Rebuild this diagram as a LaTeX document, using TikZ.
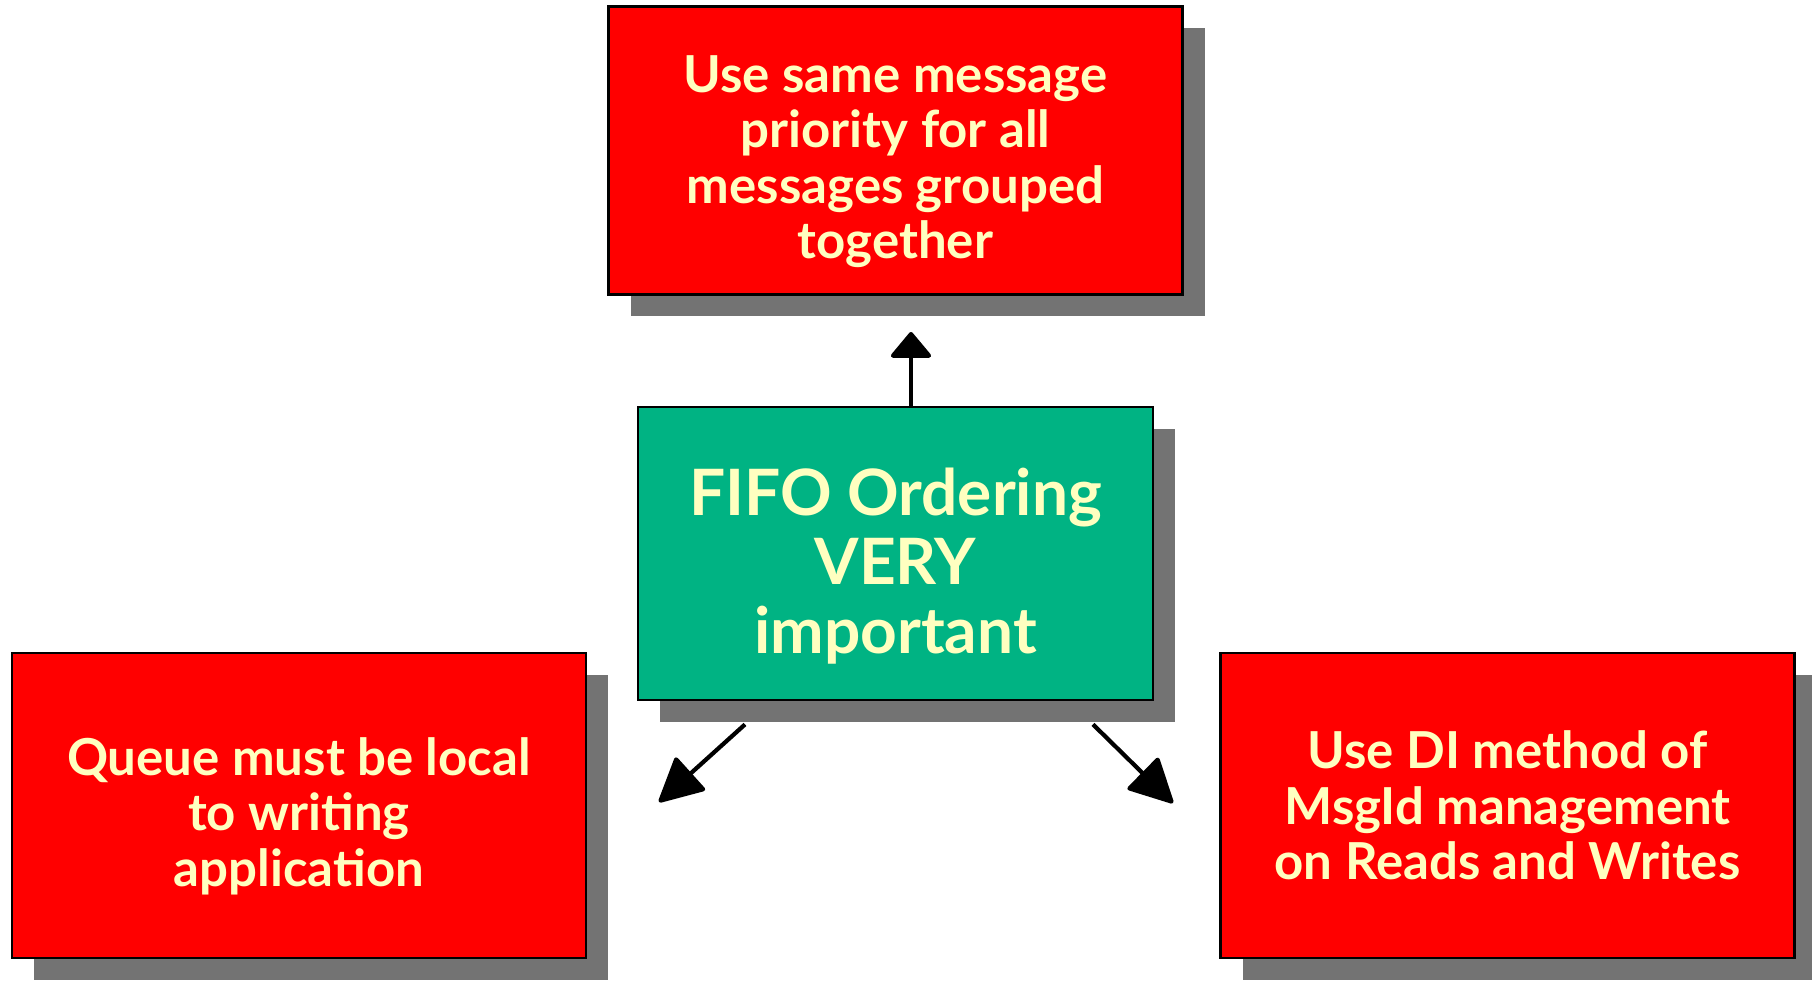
\documentclass[tikz,border=0pt]{standalone}
\usepackage{fontspec}
\setmainfont{Lato}
\usepackage{tikz}
\usetikzlibrary{positioning,shadows,arrows.meta}

\definecolor{boxred}{HTML}{FF0000}
\definecolor{boxgreen}{HTML}{00B383}
\definecolor{textyellow}{HTML}{FFFFC0}
\definecolor{shadowgrey}{HTML}{737373}

% pushes the text block of a box down by half of (#1 - first line height)
\newcommand{\toppad}[1]{\rule{0pt}{#1}}

\begin{document}
\begin{tikzpicture}[
                    box/.style={
                        draw=black,
                        line width=0.8pt,
                        text=textyellow,
                        align=center,
                        font=\bfseries\fontsize{14.5}{15.8}\selectfont,
                        general shadow={fill=shadowgrey, shadow xshift=0.22cm, shadow yshift=-0.22cm}
                    },
                    redbox/.style={box, fill=boxred, minimum width=5.74cm, minimum height=3.05cm},
                    greenbox/.style={box, fill=boxgreen, minimum width=5.15cm, minimum height=2.93cm,
                        font=\bfseries\fontsize{18.2}{19.6}\selectfont},
                    link/.style={line width=1.2pt, line join=round}
                ]
                \useasboundingbox (0,0) rectangle (18.12,9.80);

                \node[greenbox] (fifo) at (8.955,4.265) {\toppad{20.5pt}FIFO Ordering\\VERY\\important};
                \node[redbox, minimum height=2.88cm, above=1.1cm of fifo] (msg)
                    {\toppad{17pt}Use same message\\priority for all\\messages grouped\\together};
                \node[redbox] (queue) at (2.99,1.745) {\toppad{16.8pt}Queue must be local\\to writing\\application};
                \node[redbox] (dimeth) at (15.075,1.745) {Use DI method of\\MsgId management\\on Reads and Writes};

                \coordinate (uptip) at (9.11,6.48);
                \coordinate (lefttip) at (6.59,1.78);
                \coordinate (righttip) at (11.73,1.77);

                \path[link]
                (fifo.north -| uptip) edge[-{Triangle[length=0.27cm, width=0.44cm, round]}] (uptip)
                ([xshift=-1.505cm, yshift=-0.23cm]fifo.south) edge[-{Triangle[length=0.46cm, width=0.46cm, round]}] (lefttip)
                ([xshift=1.975cm, yshift=-0.23cm]fifo.south) edge[-{Triangle[length=0.46cm, width=0.46cm, round]}] (righttip)
                ;
            \end{tikzpicture}
\end{document}
